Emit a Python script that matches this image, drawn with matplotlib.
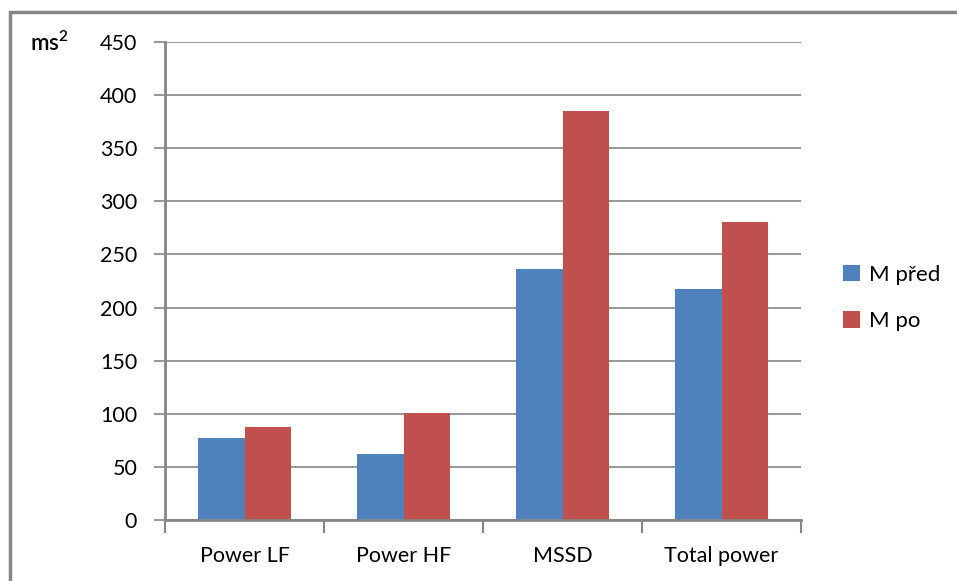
import matplotlib.pyplot as plt
import numpy as np
from matplotlib.lines import Line2D

plt.rcParams['font.family'] = ['Lato', 'DejaVu Sans']

# hodnoty HRV (ms^2)
categories = ['Power LF', 'Power HF', 'MSSD', 'Total power']
m_pred = [77, 62, 236, 217]
m_po = [88, 101, 385, 281]
series_labels = ['M před', 'M po']
y_ticks = [0, 50, 100, 150, 200, 250, 300, 350, 400, 450]

blue = '#4F81BD'
red = '#C0504D'
grid_col = '#868686'

W, H = 957, 581
fig = plt.figure(figsize=(W / 100, H / 100), dpi=100)
ax = fig.add_axes([165 / W, (H - 520) / H, (801 - 165) / W, (520 - 42) / H])

x = np.arange(len(categories))
bw = 0.29
ax.bar(x - bw / 2, m_pred, width=bw, color=blue, label=series_labels[0], zorder=2)
ax.bar(x + bw / 2, m_po, width=bw, color=red, label=series_labels[1], zorder=2)

ax.set_xlim(-0.5, len(categories) - 0.5)
ax.set_ylim(0, 450)
ax.set_yticks(y_ticks)
ax.yaxis.grid(True, color=grid_col, linewidth=1.2, zorder=0)
ax.set_axisbelow(True)

ax.set_xticks(x)
ax.set_xticklabels(categories)
ax.set_xticks(np.arange(len(categories) + 1) - 0.5, minor=True)
ax.tick_params(axis='x', which='major', length=0, pad=19, labelsize=15.5)
ax.tick_params(axis='x', which='minor', length=9, width=1.5, color=grid_col, direction='out')
ax.tick_params(axis='y', length=8, width=1.2, color=grid_col, pad=12, labelsize=15.5)

for s in ['top', 'right']:
    ax.spines[s].set_visible(False)
for s in ['left', 'bottom']:
    ax.spines[s].set_color(grid_col)
    ax.spines[s].set_linewidth(2)

fig.text(30 / W, 1 - 43 / H, 'ms$^\\mathregular{2}$', fontsize=16, fontweight='semibold',
         va='center', ha='left')

ax.legend(loc='center left', bbox_to_anchor=(843 / W, 1 - 298 / H),
          bbox_transform=fig.transFigure, frameon=False, fontsize=16,
          borderpad=0, borderaxespad=0,
          handlelength=0.75, handleheight=0.75, handletextpad=0.4, labelspacing=1.2)

# rámeček grafu (horní a levá hrana)
fx, fy = 9.5 / W, 1 - 11.5 / H
fig.add_artist(Line2D([fx, fx, 1.0], [0.0, fy, fy], transform=fig.transFigure,
                      color=grid_col, linewidth=2.5, solid_joinstyle='miter'))

fig.savefig('out.png', dpi=100)
